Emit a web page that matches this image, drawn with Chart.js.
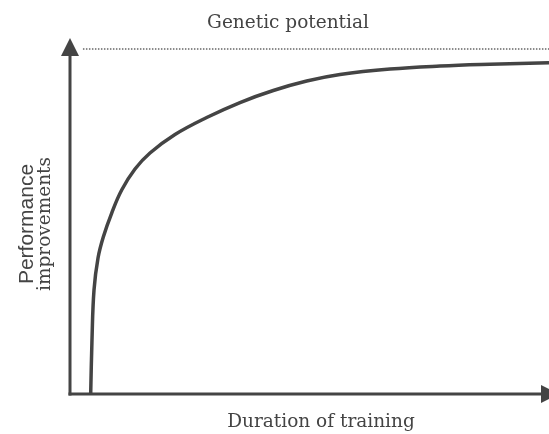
<!DOCTYPE html>
<html lang="en">
<head>
<meta charset="UTF-8">
<title>Genetic potential</title>
<script src="https://cdn.jsdelivr.net/npm/chart.js"></script>
<style>
  html, body { margin: 0; padding: 0; background: #fff; }
  #wrap { width: 549px; height: 434px; }
</style>
</head>
<body>
<div id="wrap"><canvas id="chart" width="549" height="434"></canvas></div>
<script>
// duration of training (0-100) vs performance improvement (0-100, 100 = genetic potential)
const duration = [4.32, 4.59, 5.01, 5.85, 6.95, 8.71, 10.79, 13.57, 16.7, 21.92, 28.54, 35.49, 42.44, 49.42, 56.37, 66.81, 77.24, 87.68, 100];
const performance = [0, 15.65, 30.14, 39.42, 45.51, 52.46, 59.13, 65.22, 69.86, 75.22, 80.14, 84.49, 87.97, 90.72, 92.61, 94.2, 95.07, 95.59, 96.03];
const potentialX = [2.7, 100];
const potentialY = [100, 100];

const titleText = 'Genetic potential';
const xTitle = 'Duration of training';
const yTitle = ['Performance', 'improvements'];

const ink = '#444444';
const serif = '"DejaVu Serif", serif';

const curvePoints = duration.map((x, i) => ({ x: x, y: performance[i] }));
const potentialPoints = potentialX.map((x, i) => ({ x: x, y: potentialY[i] }));

// axes with arrow heads and the text labels
const decorations = {
  id: 'decorations',
  beforeDatasetsDraw(chart) {
    const ctx = chart.ctx;
    const a = chart.chartArea;
    ctx.save();
    ctx.strokeStyle = ink;
    ctx.fillStyle = ink;
    ctx.lineWidth = 3;
    // y axis
    ctx.beginPath();
    ctx.moveTo(a.left, a.bottom + 1.5);
    ctx.lineTo(a.left, a.top + 7);
    ctx.stroke();
    ctx.beginPath();
    ctx.moveTo(a.left, a.top - 11);
    ctx.lineTo(a.left - 9, a.top + 7);
    ctx.lineTo(a.left + 9, a.top + 7);
    ctx.closePath();
    ctx.fill();
    // x axis
    ctx.beginPath();
    ctx.moveTo(a.left - 1.5, a.bottom);
    ctx.lineTo(a.right - 8, a.bottom);
    ctx.stroke();
    ctx.beginPath();
    ctx.moveTo(a.right + 10, a.bottom);
    ctx.lineTo(a.right - 8, a.bottom - 9);
    ctx.lineTo(a.right - 8, a.bottom + 9);
    ctx.closePath();
    ctx.fill();

    // texts
    ctx.textAlign = 'center';
    ctx.textBaseline = 'alphabetic';
    ctx.font = '18.5px ' + serif;
    ctx.fillText(titleText, 288, 28);
    ctx.fillText(xTitle, 321, 427);

    ctx.save();
    ctx.translate(0, 224);
    ctx.rotate(-Math.PI / 2);
    ctx.font = '21px "Liberation Sans", Arial, sans-serif';
    ctx.fillText(yTitle[0], 0, 33);
    ctx.font = '18.5px ' + serif;
    ctx.fillText(yTitle[1], 0, 50);
    ctx.restore();
    ctx.restore();
  }
};

new Chart(document.getElementById('chart'), {
  type: 'scatter',
  data: {
    datasets: [
      {
        data: curvePoints,
        showLine: true,
        borderColor: ink,
        borderWidth: 3.5,
        pointRadius: 0,
        tension: 0.4,
        clip: false
      },
      {
        data: potentialPoints,
        showLine: true,
        borderColor: '#666666',
        borderWidth: 1.5,
        borderDash: [1.5, 1.5],
        pointRadius: 0,
        clip: false
      }
    ]
  },
  options: {
    responsive: false,
    animation: false,
    layout: { padding: { left: 70, right: 0, top: 49, bottom: 40 } },
    plugins: {
      legend: { display: false },
      tooltip: { enabled: false },
      title: { display: false }
    },
    scales: {
      x: { type: 'linear', min: 0, max: 100, display: false },
      y: { type: 'linear', min: 0, max: 100, display: false }
    }
  },
  plugins: [decorations]
});
</script>
</body>
</html>
